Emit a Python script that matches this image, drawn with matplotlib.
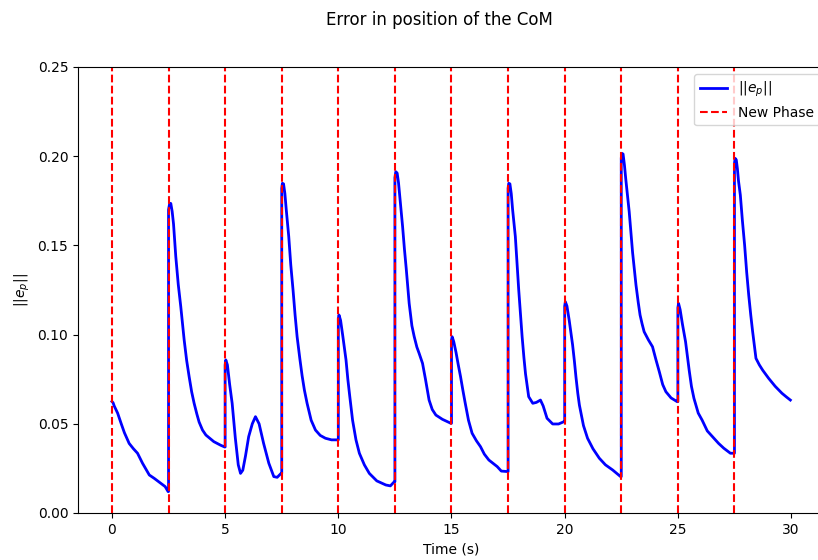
import matplotlib
matplotlib.use("Agg")
import matplotlib.pyplot as plt

title = "Error in position of the CoM"
xlabel = "Time (s)"
ylabel = "$||e_p||$"
legend_labels = ["$||e_p||$", "New Phase"]
phase_times = [0, 2.5, 5, 7.5, 10, 12.5, 15, 17.5, 20, 22.5, 25, 27.5]

time = [
    0.0, 0.05, 0.1, 0.25, 0.4, 0.55, 0.76, 0.95, 1.13, 1.35, 1.65, 1.87, 2.16, 2.35, 2.48,
    2.5, 2.55, 2.6, 2.66, 2.72, 2.82, 2.93, 3.04, 3.19, 3.3, 3.41, 3.52, 3.63, 3.75, 3.85, 4.0, 4.15, 4.5, 4.8, 4.98,
    5.0, 5.03, 5.1, 5.2, 5.31, 5.45, 5.58, 5.68, 5.78, 5.9, 6.04, 6.2, 6.34, 6.5, 6.7, 6.93, 7.15, 7.3, 7.47,
    7.5, 7.53, 7.58, 7.64, 7.7, 7.81, 7.9, 8.0, 8.09, 8.18, 8.3, 8.4, 8.5, 8.62, 8.8, 8.99, 9.2, 9.43, 9.7, 9.97,
    10.0, 10.03, 10.1, 10.2, 10.34, 10.42, 10.5, 10.63, 10.78, 10.93, 11.15, 11.37, 11.7, 12.1, 12.3, 12.47,
    12.5, 12.54, 12.6, 12.66, 12.72, 12.84, 12.92, 13.0, 13.13, 13.25, 13.35, 13.47, 13.57, 13.72, 13.85, 14.01, 14.15, 14.31, 14.6, 14.97,
    15.0, 15.03, 15.1, 15.2, 15.3, 15.4, 15.5, 15.6, 15.75, 15.91, 16.1, 16.28, 16.45, 16.65, 17.02, 17.2, 17.46,
    17.5, 17.53, 17.58, 17.64, 17.7, 17.82, 17.9, 17.97, 18.05, 18.12, 18.2, 18.27, 18.41, 18.59, 18.75, 18.93, 19.05, 19.22, 19.47, 19.73, 19.97,
    20.0, 20.03, 20.1, 20.2, 20.35, 20.43, 20.5, 20.58, 20.65, 20.83, 21.01, 21.25, 21.53, 21.8, 22.12, 22.3, 22.47,
    22.5, 22.53, 22.58, 22.64, 22.7, 22.85, 22.93, 23.0, 23.08, 23.15, 23.25, 23.33, 23.42, 23.51, 23.7, 23.88, 24.03, 24.18, 24.33, 24.47, 24.7, 24.97,
    25.0, 25.03, 25.1, 25.2, 25.34, 25.42, 25.5, 25.6, 25.71, 25.9, 26.07, 26.3, 26.59, 26.8, 27.03, 27.32, 27.47,
    27.5, 27.53, 27.58, 27.63, 27.68, 27.76, 27.85, 27.95, 28.04, 28.13, 28.22, 28.3, 28.38, 28.45, 28.6, 28.75, 29.01, 29.3, 29.6, 29.8, 29.97,
]
error = [
    0.0625, 0.0618, 0.060, 0.056, 0.0504, 0.045, 0.039, 0.036, 0.0335, 0.0279, 0.0213, 0.0194, 0.0166, 0.0148, 0.012,
    0.170, 0.1736, 0.1735, 0.169, 0.162, 0.1437, 0.128, 0.1157, 0.097, 0.0855, 0.0764, 0.068, 0.0615, 0.0555, 0.051, 0.0465, 0.0437, 0.040, 0.038, 0.037,
    0.083, 0.0858, 0.083, 0.072, 0.0615, 0.042, 0.027, 0.0222, 0.024, 0.032, 0.0428, 0.050, 0.054, 0.050, 0.039, 0.0279, 0.0204, 0.020, 0.0222,
    0.182, 0.1848, 0.1845, 0.179, 0.170, 0.155, 0.139, 0.125, 0.111, 0.0988, 0.0865, 0.077, 0.069, 0.0615, 0.052, 0.0465, 0.0435, 0.0419, 0.041, 0.041,
    0.109, 0.111, 0.108, 0.099, 0.0858, 0.075, 0.066, 0.052, 0.041, 0.0335, 0.027, 0.0222, 0.018, 0.0157, 0.0152, 0.0175,
    0.188, 0.1913, 0.1905, 0.185, 0.177, 0.1605, 0.148, 0.137, 0.1175, 0.105, 0.099, 0.093, 0.0895, 0.0839, 0.075, 0.0633, 0.058, 0.0549, 0.0525, 0.0503,
    0.097, 0.0988, 0.096, 0.090, 0.083, 0.0764, 0.069, 0.062, 0.052, 0.0447, 0.0405, 0.0372, 0.033, 0.0297, 0.026, 0.0235, 0.0232,
    0.182, 0.1848, 0.1845, 0.179, 0.170, 0.155, 0.139, 0.125, 0.111, 0.0988, 0.087, 0.078, 0.0652, 0.0615, 0.062, 0.0633, 0.060, 0.0531, 0.0499, 0.0499, 0.0512,
    0.116, 0.1184, 0.116, 0.108, 0.0942, 0.085, 0.076, 0.067, 0.0605, 0.049, 0.0419, 0.036, 0.0307, 0.027, 0.0241, 0.0222, 0.0204,
    0.199, 0.2016, 0.2012, 0.195, 0.187, 0.1689, 0.157, 0.146, 0.136, 0.1278, 0.118, 0.111, 0.106, 0.1016, 0.097, 0.0932, 0.086, 0.0792, 0.072, 0.068, 0.0645, 0.0624,
    0.115, 0.1175, 0.114, 0.106, 0.096, 0.088, 0.080, 0.071, 0.0643, 0.056, 0.0521, 0.046, 0.0419, 0.039, 0.0363, 0.0335, 0.0335,
    0.196, 0.1988, 0.198, 0.193, 0.186, 0.1782, 0.164, 0.150, 0.135, 0.1222, 0.111, 0.102, 0.094, 0.0867, 0.083, 0.080, 0.0755, 0.071, 0.0671, 0.065, 0.0633,
]

# vertical jumps at each phase change: repeat previous value at the phase time
t_plot, e_plot = [], []
for i, (t, e) in enumerate(zip(time, error)):
    if i > 0 and t in phase_times:
        t_plot.append(t)
        e_plot.append(e_plot[-1])
    t_plot.append(t)
    e_plot.append(e)

fig = plt.figure(figsize=(8.18, 5.6), dpi=100)
ax = fig.add_axes([78 / 818, 47 / 560, 747 / 818, 446 / 560])
ax.plot(t_plot, e_plot, color="blue", linewidth=2, label=legend_labels[0])
for i, pt in enumerate(phase_times):
    ax.axvline(pt, color="red", linestyle="--", linewidth=1.5,
               label=legend_labels[1] if i == 0 else None)
ax.set_xlim(-1.5, 31.5)
ax.set_ylim(0, 0.25)
ax.set_xticks([0, 5, 10, 15, 20, 25, 30])
ax.set_yticks([0.0, 0.05, 0.10, 0.15, 0.20, 0.25])
ax.set_xlabel(xlabel)
ax.set_ylabel(ylabel)
ax.legend(loc="upper right", bbox_to_anchor=(1 + 2 / 747, 1))
fig.suptitle(title, x=439 / 818, y=0.98)
fig.savefig("out.png", dpi=100)
